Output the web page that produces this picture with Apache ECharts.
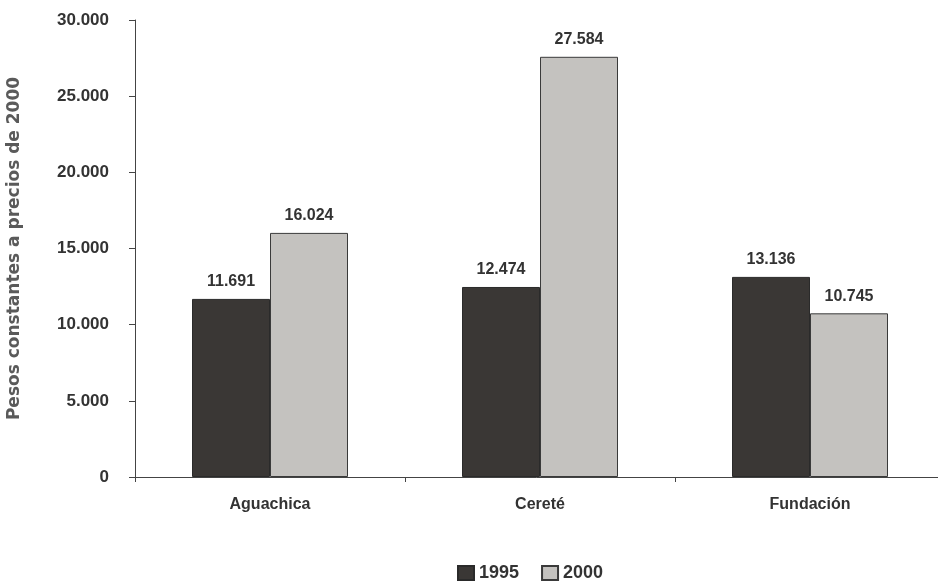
<!DOCTYPE html>
<html>
<head>
<meta charset="utf-8">
<script src="https://cdn.jsdelivr.net/npm/echarts@6/dist/echarts.min.js"></script>
<style>
html,body{margin:0;padding:0;background:#fff;}
#chart{width:938px;height:583px;}
</style>
</head>
<body>
<div id="chart"></div>
<script>
const categories = ["Aguachica", "Cereté", "Fundación"];
const values1995 = [11691, 12474, 13136];
const values2000 = [16024, 27584, 10745];
const seriesNames = ["1995", "2000"];
const yTicks = [0, 5000, 10000, 15000, 20000, 25000, 30000];

function fmt(v) {
  return String(v).replace(/\B(?=(\d{3})+(?!\d))/g, ".");
}

const font = "'Liberation Sans', Arial, sans-serif";
const chart = echarts.init(document.getElementById('chart'), null, {renderer: 'canvas'});
chart.setOption({
  backgroundColor: '#ffffff',
  animation: false,
  grid: {left: 135, top: 20, bottom: 106, width: 810, outerBoundsMode: 'none', containLabel: false},
  legend: {
    top: 559,
    left: 452,
    itemWidth: 16,
    itemHeight: 14,
    itemGap: 22,
    icon: 'rect',
    textStyle: {fontFamily: font, fontWeight: 'bold', fontSize: 18, color: '#333'},
    data: seriesNames
  },
  xAxis: {
    type: 'category',
    data: categories,
    axisLine: {lineStyle: {color: '#444', width: 1}},
    axisTick: {show: true, length: 5, lineStyle: {color: '#444'}},
    axisLabel: {fontFamily: font, fontWeight: 'bold', fontSize: 16, color: '#333', margin: 20}
  },
  yAxis: {
    type: 'value',
    min: yTicks[0],
    max: yTicks[yTicks.length - 1],
    interval: yTicks[1] - yTicks[0],
    name: 'Pesos constantes a precios de 2000',
    nameLocation: 'middle',
    nameGap: 112,
    nameTextStyle: {fontFamily: "'DejaVu Sans', sans-serif", fontWeight: 'bold', fontSize: 17, color: '#5a5a5a'},
    axisLine: {show: true, lineStyle: {color: '#444', width: 1}},
    axisTick: {show: true, length: 6, lineStyle: {color: '#444'}},
    splitLine: {show: false},
    axisLabel: {fontFamily: font, fontWeight: 'bold', fontSize: 17, color: '#333', margin: 26,
      formatter: v => fmt(v)}
  },
  series: [
    {
      name: seriesNames[0],
      type: 'bar',
      data: values1995,
      barWidth: 78,
      barGap: '0%',
      itemStyle: {color: '#3a3735', borderColor: '#2a2a2a', borderWidth: 1},
      label: {show: true, position: 'top', distance: 9, fontFamily: font, fontWeight: 'bold', fontSize: 16, color: '#333',
        formatter: p => fmt(p.value)}
    },
    {
      name: seriesNames[1],
      type: 'bar',
      data: values2000,
      barWidth: 78,
      barGap: '0%',
      itemStyle: {color: '#c4c2bf', borderColor: '#3a3a3a', borderWidth: 1},
      label: {show: true, position: 'top', distance: 9, fontFamily: font, fontWeight: 'bold', fontSize: 16, color: '#333',
        formatter: p => fmt(p.value)}
    }
  ]
});
</script>
</body>
</html>
